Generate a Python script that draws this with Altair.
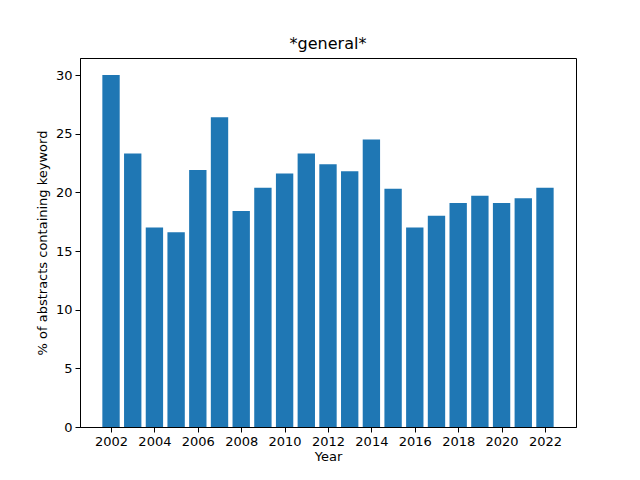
import altair as alt
import pandas as pd

years = list(range(2002, 2023))
values = [30.0, 23.3, 17.0, 16.6, 21.9, 26.4, 18.4, 20.4, 21.6, 23.3, 22.4,
          21.8, 24.5, 20.3, 17.0, 18.0, 19.1, 19.7, 19.1, 19.5, 20.4]
ticks = list(range(2002, 2023, 2))

df = pd.DataFrame({"Year": years, "pct": values})

axis_style = dict(grid=False, tickColor="black", domainColor="black", labelColor="black",
                  titleColor="black", labelFontSize=13, titleFontSize=13,
                  titleFontWeight="normal", labelFont="DejaVu Sans", titleFont="DejaVu Sans",
                  tickSize=5, labelPadding=3)

chart = alt.Chart(df).transform_calculate(
    x0="datum.Year - 0.4", x1="datum.Year + 0.4"
).mark_bar(color="#1f77b4").encode(
    x=alt.X("x0:Q", title="Year",
            scale=alt.Scale(domain=[2000.57, 2023.43], nice=False, zero=False),
            axis=alt.Axis(values=ticks, format="d", titlePadding=2, **axis_style)),
    x2="x1:Q",
    y=alt.Y("pct:Q", title="% of abstracts containing keyword",
            scale=alt.Scale(domain=[0, 31.45], nice=False),
            axis=alt.Axis(values=[0, 5, 10, 15, 20, 25, 30], titlePadding=6, **axis_style)),
    y2=alt.datum(0),
).properties(
    width=496, height=369,
    title=alt.TitleParams("*general*", font="DejaVu Sans", fontSize=16,
                          fontWeight="normal", color="black", offset=6),
    autosize=alt.AutoSizeParams(type="none"),
    padding={"left": 72, "top": 50, "right": 56, "bottom": 45},
).configure_view(stroke="black", strokeWidth=1)

chart.save("out.html", embed_options={"renderer": "svg", "actions": False})
